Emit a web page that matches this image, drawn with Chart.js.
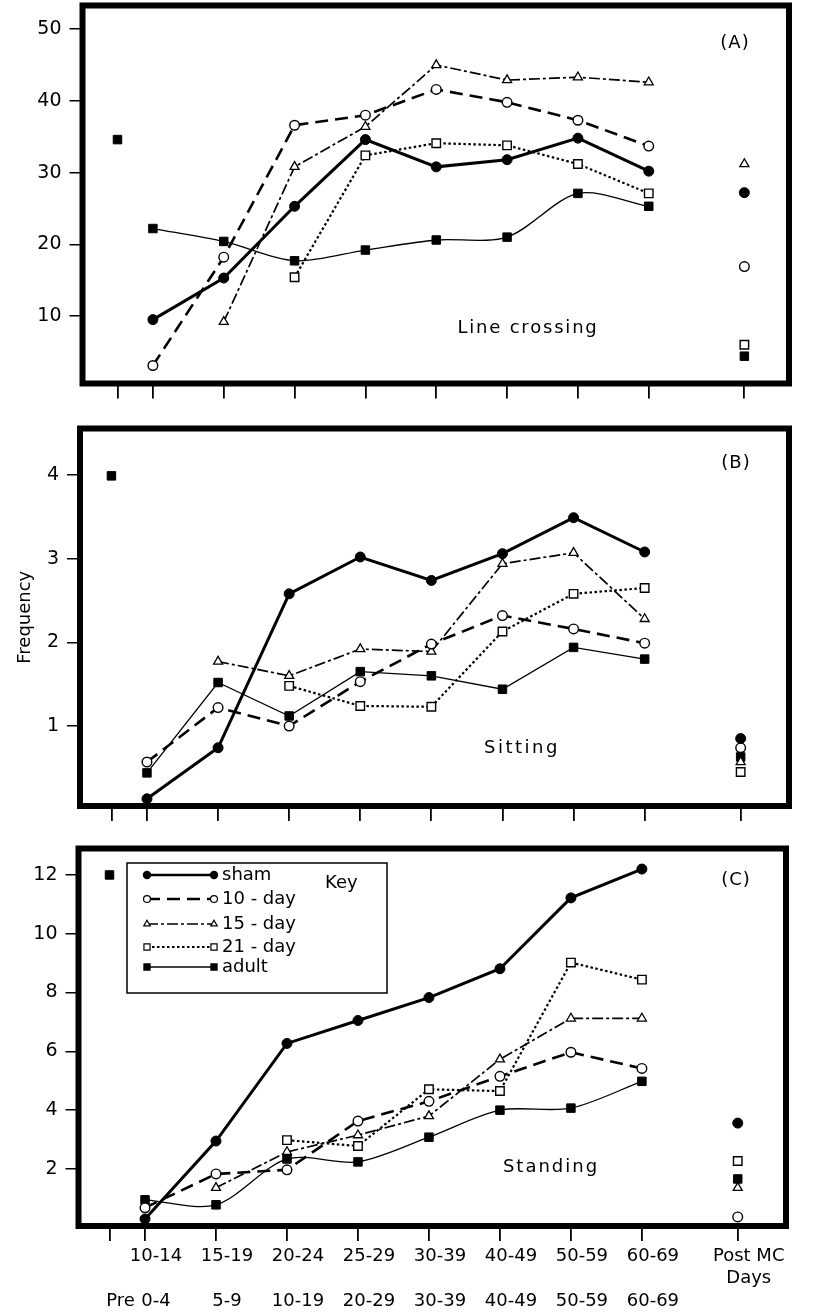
<!DOCTYPE html>
<html><head><meta charset="utf-8">
<script src="https://cdn.jsdelivr.net/npm/chart.js@4.4.1/dist/chart.umd.min.js"></script>
<style>
html,body{margin:0;padding:0;background:#fff;width:815px;height:1315px;overflow:hidden}
canvas{position:absolute;left:0}
</style></head><body>
<canvas id="cA" width="815" height="420" style="top:0px"></canvas>
<canvas id="cB" width="815" height="420" style="top:420px"></canvas>
<canvas id="cC" width="815" height="475" style="top:840px"></canvas>
<script>
// ---------- DATA ----------
const categories = ['Pre','10-14','15-19','20-24','25-29','30-39','40-49','50-59','60-69','Post'];
const categoryX  = [0.5, 1, 2, 3, 4, 5, 6, 7, 8, 9.35];
const xTopLabels    = ['', '10-14', '15-19', '20-24', '25-29', '30-39', '40-49', '50-59', '60-69', 'Post MC'];
const xMidLabels    = ['', '', '', '', '', '', '', '', '', 'Days'];
const xBottomLabels = ['Pre', '0-4', '5-9', '10-19', '20-29', '30-39', '40-49', '50-59', '60-69', ''];

const seriesKeys  = ['sham','day10','day15','day21','adult'];
const seriesNames = ['sham','10 - day','15 - day','21 - day','adult'];

// (A) Line crossing
const shamA  = [null, 9.5, 15.3, 25.3, 34.6, 30.8, 31.8, 34.8, 30.2, 27.2];
const day10A = [null, 3.1, 18.2, 36.6, 38.0, 41.6, 39.8, 37.3, 33.7, 16.9];
const day15A = [null, null, 9.2, 30.8, 36.4, 45.0, 42.9, 43.3, 42.6, 31.2];
const day21A = [null, null, null, 15.4, 32.4, 34.1, 33.8, 31.2, 27.1, 6.0];
const adultA = [34.6, 22.2, 20.4, 17.7, 19.2, 20.6, 21.0, 27.1, 25.3, 4.4];
const yTicksA = [10, 20, 30, 40, 50];

// (B) Sitting
const shamB  = [null, 0.13, 0.74, 2.58, 3.02, 2.74, 3.06, 3.49, 3.08, 0.85];
const day10B = [null, 0.57, 1.22, 1.0, 1.53, 1.98, 2.32, 2.16, 1.99, 0.74];
const day15B = [null, null, 1.77, 1.6, 1.92, 1.89, 2.94, 3.07, 2.28, 0.57];
const day21B = [null, null, null, 1.48, 1.24, 1.23, 2.13, 2.58, 2.65, 0.45];
const adultB = [3.99, 0.44, 1.52, 1.12, 1.65, 1.6, 1.44, 1.94, 1.8, 0.63];
const yTicksB = [1, 2, 3, 4];

// (C) Standing
const shamC  = [null, 0.3, 2.95, 6.27, 7.05, 7.83, 8.81, 11.22, 12.2, 3.56];
const day10C = [null, 0.68, 1.83, 1.97, 3.63, 4.3, 5.15, 5.97, 5.42, 0.37];
const day15C = [null, null, 1.36, 2.58, 3.15, 3.8, 5.73, 7.12, 7.12, 1.36];
const day21C = [null, null, null, 2.98, 2.78, 4.71, 4.65, 9.02, 8.44, 2.27];
const adultC = [12.0, 0.95, 0.78, 2.34, 2.24, 3.08, 4.0, 4.07, 4.98, 1.66];
const yTicksC = [2, 4, 6, 8, 10, 12];

// ---------- STYLES ----------
const FONT = '"DejaVu Sans", sans-serif';
const styles = {
  sham:  {width: 3,   dash: [],            point: 'circle',   radius: 5,   fill: '#000', pbw: 1},
  day10: {width: 2.6, dash: [13, 7],       point: 'circle',   radius: 4.8, fill: '#fff', pbw: 1.4},
  day15: {width: 1.7, dash: [11, 3, 3, 3], point: 'triangle', radius: 5.2, fill: '#fff', pbw: 1.3},
  day21: {width: 2.2, dash: [2.5, 2.5],    point: 'rect',     radius: 6,   fill: '#fff', pbw: 1.4},
  adult: {width: 1.3, dash: [],            point: 'rect',     radius: 6,   fill: '#000', pbw: 1}
};

function buildDatasets(values, smoothAdult) {
  const ds = [];
  seriesKeys.forEach(k => {
    const st = styles[k];
    const vals = values[k];
    const linePts = [], isoPts = [];
    vals.forEach((v, i) => {
      if (v === null) return;
      const p = {x: categoryX[i], y: v};
      if (i === 0 || i === categoryX.length - 1) isoPts.push(p); else linePts.push(p);
    });
    const common = {
      borderColor: '#000', pointStyle: st.point, pointRadius: st.radius, pointHoverRadius: st.radius,
      pointBorderWidth: st.pbw, pointBackgroundColor: st.fill, pointBorderColor: '#000', clip: false, fill: false
    };
    ds.push(Object.assign({}, common, {data: linePts, showLine: true, borderWidth: st.width,
      borderDash: st.dash, tension: (k === 'adult' && smoothAdult) ? 0.3 : 0}));
    ds.push(Object.assign({}, common, {data: isoPts, showLine: false, borderWidth: 0}));
  });
  return ds;
}

const framePlugin = {
  id: 'frame',
  afterDraw(chart) {
    const {ctx, chartArea: a} = chart;
    ctx.save();
    ctx.lineWidth = 6; ctx.strokeStyle = '#000'; ctx.setLineDash([]); ctx.lineJoin = 'miter';
    ctx.strokeRect(a.left, a.top, a.right - a.left, a.bottom - a.top);
    ctx.restore();
  }
};

const textPlugin = {
  id: 'panelText',
  afterDraw(chart, args, opts) {
    const ctx = chart.ctx;
    (opts.items || []).forEach(it => {
      ctx.save();
      ctx.fillStyle = '#000';
      ctx.font = (it.size || 18) + 'px ' + FONT;
      ctx.letterSpacing = (it.spacing || 0) + 'px';
      ctx.textAlign = it.align || 'center';
      ctx.textBaseline = 'middle';
      ctx.fillText(it.text, it.x, it.y);
      ctx.restore();
    });
    const lg = opts.legend;
    if (lg) {
      ctx.save();
      ctx.strokeStyle = '#000'; ctx.lineWidth = 1.5; ctx.setLineDash([]);
      ctx.strokeRect(lg.x0, lg.y0, lg.x1 - lg.x0, lg.y1 - lg.y0);
      seriesKeys.forEach((k, i) => {
        const st = styles[k];
        const y = lg.rows[i];
        ctx.save();
        ctx.strokeStyle = '#000'; ctx.lineWidth = Math.min(st.width, 2.4); ctx.setLineDash(st.dash);
        ctx.beginPath(); ctx.moveTo(lg.lx0, y); ctx.lineTo(lg.lx1, y); ctx.stroke();
        ctx.restore();
        [lg.lx0, lg.lx1].forEach(px => {
          ctx.save();
          ctx.setLineDash([]);
          ctx.fillStyle = st.fill; ctx.strokeStyle = '#000'; ctx.lineWidth = 1.2;
          Chart.helpers.drawPoint(ctx, {pointStyle: st.point, rotation: 0, radius: st.radius * 0.72, borderWidth: 1.2}, px, y);
          ctx.restore();
        });
        ctx.fillStyle = '#000';
        ctx.font = '18px ' + FONT;
        ctx.textAlign = 'left'; ctx.textBaseline = 'middle';
        ctx.fillText(seriesNames[i], lg.tx, y);
      });
      ctx.font = '18px ' + FONT;
      ctx.textAlign = 'left'; ctx.textBaseline = 'middle';
      ctx.fillText('Key', lg.keyX, lg.keyY);
      ctx.restore();
    }
  }
};

function zeroPad(s) { s.paddingTop = 0; s.paddingBottom = 0; s.paddingLeft = 0; s.paddingRight = 0; }

function makePanel(id, values, cfg) {
  return new Chart(document.getElementById(id), {
    type: 'line',
    data: {datasets: buildDatasets(values, cfg.smoothAdult)},
    plugins: [framePlugin, textPlugin],
    options: {
      responsive: false, animation: false, devicePixelRatio: 1,
      layout: {autoPadding: false, padding: {top: cfg.padTop, right: cfg.padRight, left: 0, bottom: 0}},
      plugins: {legend: {display: false}, tooltip: {enabled: false},
        panelText: {items: cfg.items, legend: cfg.legend}},
      scales: {
        x: {
          type: 'linear', min: cfg.xMin, max: cfg.xMax,
          afterBuildTicks: s => { s.ticks = categoryX.map(v => ({value: v})); },
          afterFit: s => { s.height = cfg.bottomH; zeroPad(s); },
          border: {display: false},
          grid: {drawOnChartArea: false, drawTicks: true, tickLength: 15, color: '#000', lineWidth: 1.8},
          ticks: {
            display: cfg.showX, autoSkip: false, maxRotation: 0, minRotation: 0, padding: 4,
            labelOffset: 11, color: '#000', font: {family: FONT, size: 18, lineHeight: 1.25},
            callback: (v, i) => [xTopLabels[i], xMidLabels[i], xBottomLabels[i]]
          }
        },
        y: {
          type: 'linear', min: cfg.yMin, max: cfg.yMax,
          afterBuildTicks: s => { s.ticks = cfg.yTicks.map(v => ({value: v})); },
          afterFit: s => { s.width = cfg.leftW; zeroPad(s); },
          border: {display: false},
          grid: {drawOnChartArea: false, drawTicks: true, tickLength: 13, color: '#000', lineWidth: 1.5},
          ticks: {padding: 8, color: '#000', font: {family: FONT, size: 19}},
          title: {display: !!cfg.yTitle, text: cfg.yTitle || '', color: '#000',
            font: {family: FONT, size: 18}, padding: {top: 15, bottom: 0}}
        }
      }
    }
  });
}

makePanel('cA', {sham: shamA, day10: day10A, day15: day15A, day21: day21A, adult: adultA}, {
  xMin: 0.006, xMax: 9.98, yMin: 0.59, yMax: 53.3, yTicks: yTicksA,
  leftW: 82.5, padTop: 5.5, padRight: 26, bottomH: 36.5, showX: false, smoothAdult: true,
  items: [{text: '(A)', x: 735, y: 43, size: 18, spacing: 1},
          {text: 'Line crossing', x: 528, y: 328, size: 18, spacing: 1.8}]
});

makePanel('cB', {sham: shamB, day10: day10B, day15: day15B, day21: day21B, adult: adultB}, {
  xMin: 0.058, xMax: 10.03, yMin: 0.044, yMax: 4.556, yTicks: yTicksB,
  leftW: 80, padTop: 8.5, padRight: 26, bottomH: 34, showX: false, smoothAdult: false,
  yTitle: 'Frequency',
  items: [{text: '(B)', x: 736, y: 43, size: 18, spacing: 1},
          {text: 'Sitting', x: 522, y: 328, size: 18, spacing: 2.5}]
});

makePanel('cC', {sham: shamC, day10: day10C, day15: day15C, day21: day21C, adult: adultC}, {
  xMin: 0.063, xMax: 10.03, yMin: 0.06, yMax: 12.9, yTicks: yTicksC,
  leftW: 78.5, padTop: 8.5, padRight: 29, bottomH: 89, showX: true, smoothAdult: true,
  items: [{text: '(C)', x: 736, y: 40, size: 18, spacing: 1},
          {text: 'Standing', x: 551, y: 327, size: 18, spacing: 2}],
  legend: {x0: 127, y0: 23, x1: 387, y1: 153, lx0: 147, lx1: 214, tx: 222,
           rows: [35, 59, 84, 107, 127], keyX: 325, keyY: 43}
});
</script>
</body></html>
